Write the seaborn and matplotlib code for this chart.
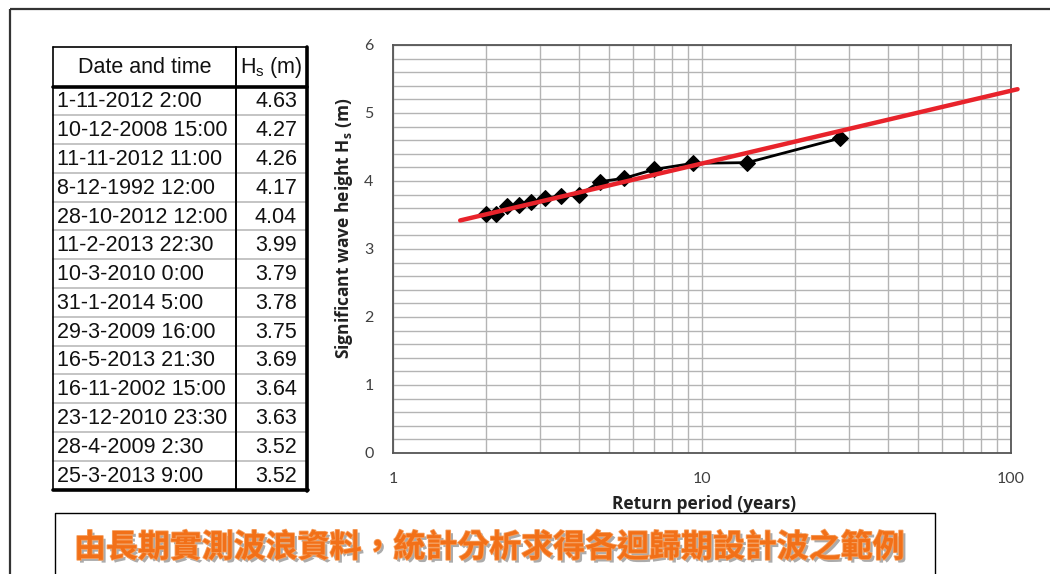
import numpy as np
import pandas as pd
import matplotlib
matplotlib.use("Agg")
import matplotlib.pyplot as plt
import matplotlib.patheffects as pe
from matplotlib.ticker import FixedLocator, NullFormatter, FixedFormatter
import seaborn as sns

# ---------------- data ----------------
dates = ["1-11-2012 2:00", "10-12-2008 15:00", "11-11-2012 11:00", "8-12-1992 12:00",
         "28-10-2012 12:00", "11-2-2013 22:30", "10-3-2010 0:00", "31-1-2014 5:00",
         "29-3-2009 16:00", "16-5-2013 21:30", "16-11-2002 15:00", "23-12-2010 23:30",
         "28-4-2009 2:30", "25-3-2013 9:00"]
hs = [4.63, 4.27, 4.26, 4.17, 4.04, 3.99, 3.79, 3.78, 3.75, 3.69, 3.64, 3.63, 3.52, 3.52]
return_period = [28, 14, 9.33, 7, 5.6, 4.67, 4, 3.5, 3.11, 2.8, 2.55, 2.33, 2.15, 2.0]
fit_period = [1.65, 105]
fit_hs = [3.42, 5.35]
y_ticks = [0, 1, 2, 3, 4, 5, 6]
x_ticks = [1, 10, 100]
title_zh = "由長期實測波浪資料，統計分析求得各迴歸期設計波之範例"

sns.set_theme(style="white")
plt.rcParams["font.family"] = ["Lato", "DejaVu Sans"]
plt.rcParams["mathtext.fontset"] = "custom"
plt.rcParams["mathtext.rm"] = "Liberation Sans"
plt.rcParams["mathtext.bf"] = "Open Sans:bold"

W, H = 1050, 574
fig = plt.figure(figsize=(W / 100, H / 100), dpi=100)
fig.patch.set_facecolor("white")

# overlay in pixel coordinates
ov = fig.add_axes([0, 0, 1, 1])
ov.set_xlim(0, W)
ov.set_ylim(H, 0)
ov.axis("off")

# page frame
ov.plot([10, W], [9, 9], color="#333333", lw=1.6, solid_capstyle="butt")
ov.plot([10, 10], [9, H], color="#333333", lw=1.6, solid_capstyle="butt")

# ---------------- table ----------------
tx0, tx1, tdiv = 53, 307, 236
ty0, thead = 47, 86.5
tbot = 489.5
rh = (tbot - thead) / len(dates)
for i in range(1, len(dates)):
    y = thead + i * rh
    ov.plot([tx0, tx1], [y, y], color="#c4c4c4", lw=1.4)
ov.plot([tx0, tx0], [ty0, tbot], color="black", lw=1.2)
ov.plot([tx0, tx1], [ty0, ty0], color="black", lw=1.2)
ov.plot([tdiv, tdiv], [ty0, tbot], color="black", lw=1.4)
ov.plot([tx1, tx1], [ty0, tbot + 1], color="black", lw=2.6)
ov.plot([tx0, tx1 + 1], [tbot, tbot], color="black", lw=2.6)
ov.plot([tx0, tx1], [thead, thead], color="black", lw=2.6)

tf = dict(family=["Liberation Sans", "DejaVu Sans"], fontsize=15.5, color="#111111")
ov.text((tx0 + tdiv) / 2, (ty0 + thead) / 2 + 1, "Date and time", ha="center", va="center", **tf)
ov.text((tdiv + tx1) / 2, (ty0 + thead) / 2 + 1, r"H$_{\rm s}$ (m)", ha="center", va="center", **tf)
for i, (d, v) in enumerate(zip(dates, hs)):
    yc = thead + (i + 0.5) * rh + 1
    ov.text(57, yc, d, ha="left", va="center", **tf)
    ov.text(297, yc, f"{v:.2f}", ha="right", va="center", **tf)

# ---------------- bottom caption box ----------------
ov.plot([55, 55, 935, 935], [H + 5, 513, 513, H + 5], color="black", lw=1.0)
ov.text(490, 548, title_zh, ha="center", va="center", fontsize=23, fontweight="bold",
        family=["Noto Sans CJK TC", "DejaVu Sans"], color="#f27018",
        path_effects=[pe.SimplePatchShadow(offset=(2, -2), shadow_rgbFace="#888888", alpha=0.7),
                      pe.Stroke(linewidth=1.2, foreground="#f5a060"), pe.Normal()])

# ---------------- main chart ----------------
ax = fig.add_axes([393 / W, 1 - 453 / H, (1011 - 393) / W, (453 - 45) / H])
ax.set_xscale("log")
ax.set_xlim(1, 100)
ax.set_ylim(0, 6)

obs = pd.DataFrame({"T": return_period, "Hs": hs})
fit = pd.DataFrame({"T": fit_period, "Hs": fit_hs})

sns.lineplot(data=fit, x="T", y="Hs", ax=ax, color="#e8232b", lw=3.2, zorder=4)
ax.lines[-1].set_clip_on(False)
sns.lineplot(data=obs, x="T", y="Hs", ax=ax, color="black", lw=2.0, marker="D",
             markersize=8.5, markeredgecolor="black", zorder=3, sort=True)

ax.xaxis.set_major_locator(FixedLocator(x_ticks))
ax.xaxis.set_major_formatter(FixedFormatter([str(v) for v in x_ticks]))
minor_x = [m * 10 ** k for k in range(2) for m in range(2, 10)]
ax.xaxis.set_minor_locator(FixedLocator(minor_x))
ax.xaxis.set_minor_formatter(NullFormatter())
ax.set_yticks(y_ticks)
ax.yaxis.set_minor_locator(FixedLocator(np.arange(0.2, 6.0, 0.2)))

ax.grid(which="both", axis="both", color="#b4b4b4", lw=1.0)
ax.set_axisbelow(True)
for s in ax.spines.values():
    s.set_color("#555555")
    s.set_linewidth(1.3)
    s.set_visible(True)
ax.tick_params(which="both", length=0, labelsize=11.5, colors="#404040")
ax.tick_params(axis="x", pad=14)
ax.tick_params(axis="y", pad=14)

lab = dict(fontsize=12.5, fontweight="bold", color="#222222", family=["Open Sans", "DejaVu Sans"])
ax.set_xlabel("Return period (years)", **lab)
ax.set_ylabel(r"Significant wave height H$_{\bf s}$ (m)", **lab)
ax.xaxis.set_label_coords(0.504, -0.102)
ax.yaxis.set_label_coords(-0.062, 0.55)

fig.savefig("out.png", dpi=100, facecolor="white")
